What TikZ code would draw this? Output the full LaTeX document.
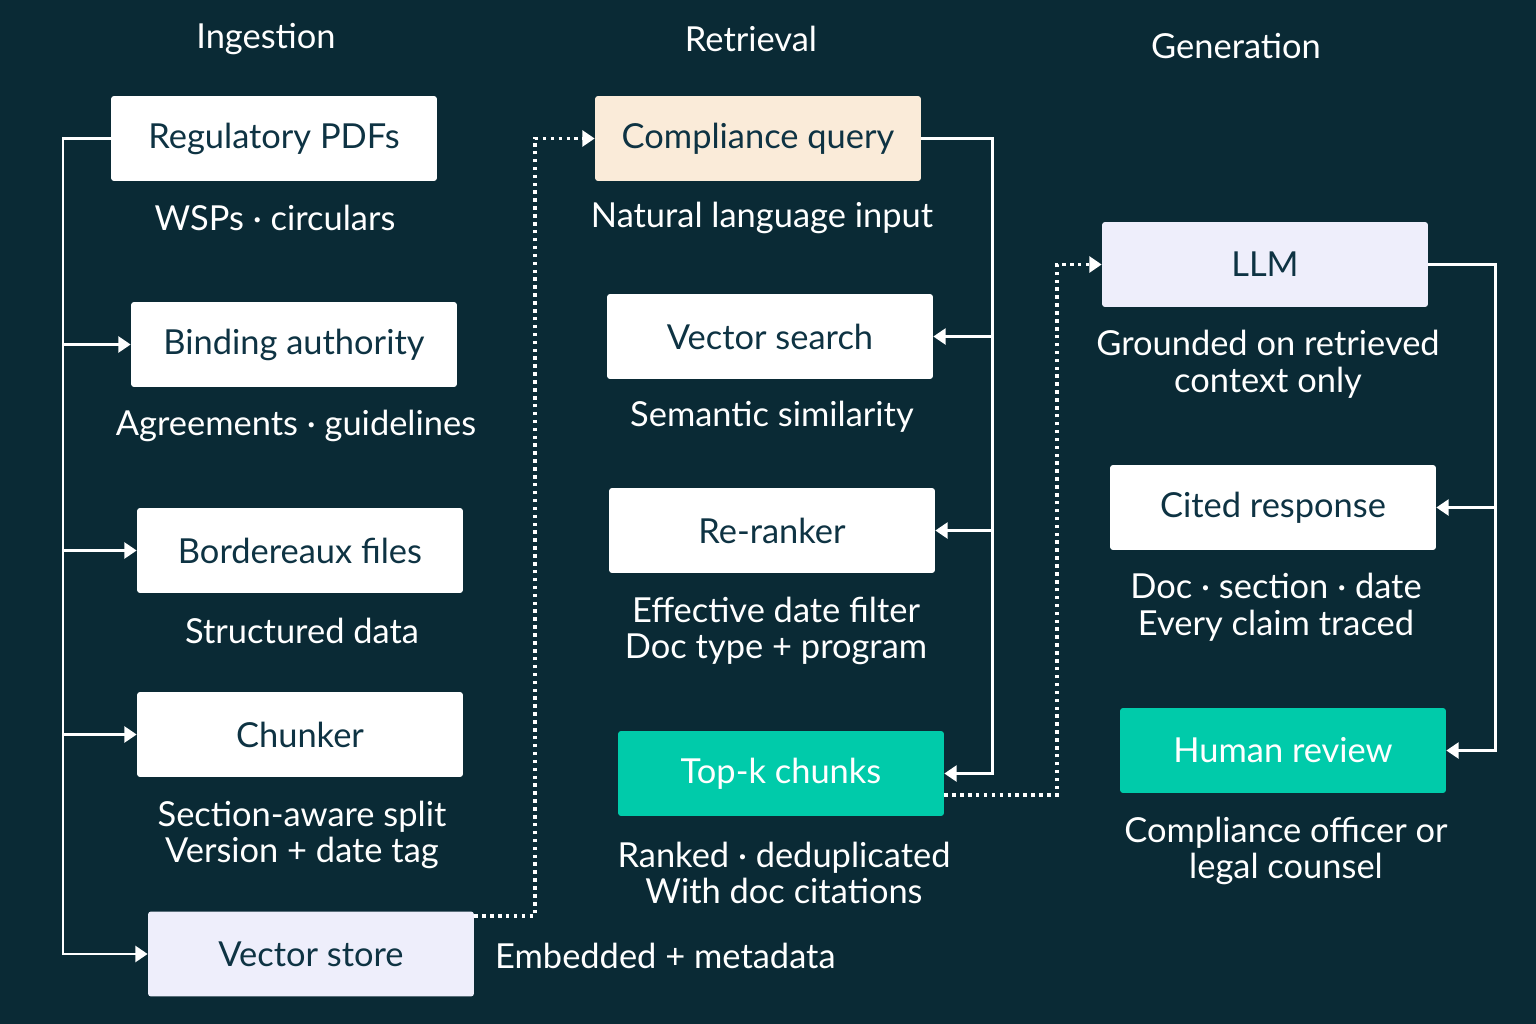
\documentclass[tikz,border=0pt]{standalone}
\usepackage{fontspec}
\setmainfont{Lato}
\usetikzlibrary{positioning,calc,arrows.meta}
\definecolor{bgteal}{HTML}{0A2A35}
\definecolor{inkteal}{HTML}{0E3343}
\definecolor{paper}{HTML}{FAEBD9}
\definecolor{lavender}{HTML}{EEEEFB}
\definecolor{mint}{HTML}{00CBAA}

\begin{document}
\begin{tikzpicture}[x=0.02cm, y=-0.02cm,
  every node/.style={font=\fontsize{19.6}{21}\selectfont},
  box/.style={draw=none,fill=white,rounded corners=1.7pt,minimum width=6.52cm,minimum height=1.7cm,text=inkteal},
  note/.style={text=white,align=center},
  title/.style={text=white},
  wire/.style={draw=white,line width=1.7pt},
  dots/.style={draw=white,line width=2pt,dash pattern=on 2pt off 2.5pt},
  tip/.style={-{Triangle[length=7pt,width=9pt]}}]
\fill[bgteal] (0,0) rectangle (1536,1024);

% column titles
\node[title] (tin) at (266,39) {Ingestion};
\node[title] (tret) at (751,39) {Retrieval};
\node[title] (tgen) at (1236,46) {Generation};

% ingestion
\node[box] (pdfs) at (274,138.5) {Regulatory PDFs};
\node[note] (pdfsnote) at (275,218) {WSPs · circulars};
\node[box] (auth) at (294,344.5) {Binding authority};
\node[note] (authnote) at (296,426) {Agreements · guidelines};
\node[box] (bdx) at (300,550.5) {Bordereaux files};
\node[note] (bdxnote) at (302,631) {Structured data};
\node[box] (chunk) at (300,734.5) {Chunker};
\node[note] (chunknote) at (302,835) {Section-aware split\\Version + date tag};
\node[box,fill=lavender] (store) at (311,954) {Vector store};
\node[note,anchor=west] (storenote) at (489,956) {Embedded + metadata};

% retrieval
\node[box,fill=paper] (query) at (758,138.5) {Compliance query};
\node[note] (querynote) at (762,218) {Natural language input};
\node[box] (search) at (770,336.5) {Vector search};
\node[note] (searchnote) at (772,417) {Semantic similarity};
\node[box] (rerank) at (772,530.5) {Re-ranker};
\node[note] (reranknote) at (776,631) {Effective date filter\\Doc type + program};
\node[box,fill=mint,text=white] (topk) at (781,773.5) {Top-k chunks};
\node[note] (topknote) at (784,873) {Ranked · deduplicated\\With doc citations};

% generation
\node[box,fill=lavender] (llm) at (1265,264.5) {LLM};
\node[note] (llmnote) at (1268,364) {Grounded on retrieved\\context only};
\node[box] (cited) at (1273,507.5) {Cited response};
\node[note] (citednote) at (1276,607) {Doc · section · date\\Every claim traced};
\node[box,fill=mint,text=white] (review) at (1283,750.5) {Human review};
\node[note] (reviewnote) at (1286,851) {Compliance officer or\\legal counsel};

% buses
\coordinate (busL) at (63,138.5);
\draw[wire,tip] (pdfs.west) -- (busL) |- (store.west);
\draw[wire,tip] (busL |- auth.west) -- (auth.west);
\draw[wire,tip] (busL |- bdx.west) -- (bdx.west);
\draw[wire,tip] (busL |- chunk.west) -- (chunk.west);

\coordinate (busR) at (992,138.5);
\draw[wire,tip] (query.east) -- (busR) |- (topk.east);
\draw[wire,tip] (busR |- search.east) -- (search.east);
\draw[wire,tip] (busR |- rerank.east) -- (rerank.east);

\coordinate (busG) at (1495,264.5);
\draw[wire,tip] (llm.east) -- (busG) |- (review.east);
\draw[wire,tip] (busG |- cited.east) -- (cited.east);

% dotted hand-offs
\coordinate (dotA) at (535,916);
\draw[dots,tip] (store.east |- dotA) -- (dotA) |- (query.west);
\coordinate (dotB) at (1057,795);
\draw[dots,tip] (topk.east |- dotB) -- (dotB) |- (llm.west);
\end{tikzpicture}
\end{document}
